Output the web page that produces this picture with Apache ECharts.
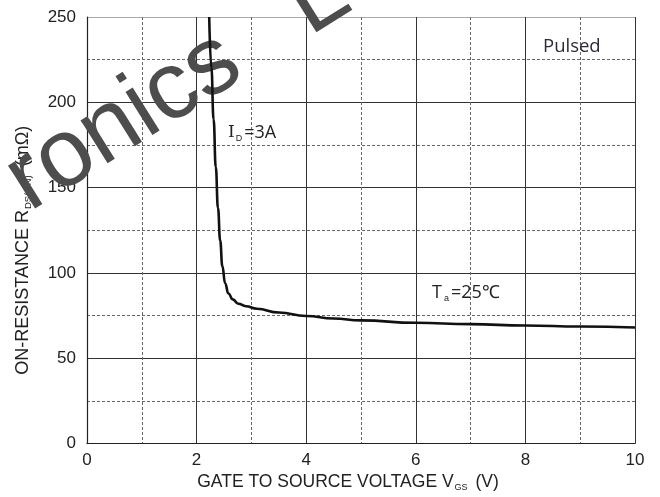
<!DOCTYPE html>
<html>
<head>
<meta charset="utf-8">
<script src="https://cdn.jsdelivr.net/npm/echarts@6/dist/echarts.min.js"></script>
<style>html,body{margin:0;padding:0;background:#fff;}#c{width:660px;height:497px;}</style>
</head>
<body>
<div id="c"></div>
<script>
// Data
const vgs = [2.23, 2.27, 2.31, 2.35, 2.39, 2.43, 2.47, 2.52, 2.58, 2.66, 2.76, 2.90, 3.10, 3.50, 4.00, 4.50, 5.00, 6.00, 7.00, 8.00, 9.00, 10.00];
const rdson = [250, 220, 190, 162, 138, 119, 104, 94, 88, 84.5, 82, 80.5, 79, 76.8, 74.8, 73.3, 72.2, 70.8, 70.0, 69.2, 68.6, 68.0];
const xTicks = [0, 2, 4, 6, 8, 10];
const yTicks = [0, 50, 100, 150, 200, 250];

const chart = echarts.init(document.getElementById('c'), null, {renderer: 'canvas'});
const sans = 'Liberation Sans, Arial, sans-serif';
const open = 'Open Sans, sans-serif';

chart.setOption({
  animation: false,
  backgroundColor: '#fff',
  grid: {left: 87, right: 25, top: 17, bottom: 52, containLabel: false},
  xAxis: {
    type: 'value', min: xTicks[0], max: xTicks[xTicks.length - 1], interval: 2,
    axisLine: {show: true, lineStyle: {color: '#222', width: 1.2}},
    axisTick: {show: false},
    axisLabel: {color: '#222', fontFamily: sans, fontSize: 17, margin: 8},
    splitLine: {show: true, lineStyle: {color: '#333', width: 1, type: 'solid'}},
    minorTick: {show: false, splitNumber: 2},
    minorSplitLine: {show: true, lineStyle: {color: '#666', width: 1, type: [3, 2]}},
    name: 'GATE TO SOURCE VOLTAGE V{sub|GS} (V)',
    nameLocation: 'middle', nameGap: 27,
    nameTextStyle: {color: '#222', fontFamily: sans, fontSize: 17.5, padding: [0, 26, 0, 0],
      rich: {sub: {fontSize: 9, fontFamily: sans, color: '#222', padding: [10, 3, 0, 1]}}}
  },
  yAxis: {
    type: 'value', min: yTicks[0], max: yTicks[yTicks.length - 1], interval: 50,
    axisLine: {show: true, lineStyle: {color: '#222', width: 1.2}},
    axisTick: {show: false},
    axisLabel: {color: '#222', fontFamily: sans, fontSize: 17, margin: 11},
    splitLine: {show: true, lineStyle: {color: ['#333', '#333', '#333', '#333', '#333', '#aaa'], width: 1}},
    minorTick: {show: false, splitNumber: 2},
    minorSplitLine: {show: true, lineStyle: {color: '#666', width: 1, type: [3, 2]}},
    name: 'ON-RESISTANCE R{sub|DS(ON)} (mΩ)',
    nameLocation: 'middle', nameGap: 54, nameRotate: 90,
    nameTextStyle: {color: '#222', fontFamily: sans, fontSize: 18, padding: [0, 40, 0, 0],
      rich: {sub: {fontSize: 9.5, fontFamily: sans, color: '#222', padding: [10, 4, 0, 1]}}}
  },
  series: [{
    type: 'line',
    data: vgs.map((v, i) => [v, rdson[i]]),
    smooth: 0.5,
    smoothMonotone: 'x',
    showSymbol: false,
    clip: true,
    z: 5,
    lineStyle: {color: '#111', width: 2.6}
  }],
  graphic: [
    {type: 'text', z: 3, left: 543, top: 37,
      style: {text: 'Pulsed', fill: '#2b2b38', font: '18.5px ' + open}},
    {type: 'text', z: 3, left: 228, top: 124,
      style: {text: '{i|I}{s|D}{n|=3A}',
        rich: {i: {font: '17px DejaVu Serif', fill: '#222'},
               s: {font: '9px ' + sans, fill: '#222', padding: [11, 2, 0, 1]},
               n: {font: '18px ' + open, fill: '#222'}}}},
    {type: 'text', z: 3, left: 432, top: 284,
      style: {text: '{n|T}{s|a}{n|=25℃}',
        rich: {n: {font: '18px ' + open, fill: '#222'},
               s: {font: '9px ' + sans, fill: '#222', padding: [12, 2, 0, 2]}}}},
    {type: 'text', z: 2, x: -10, y: 149, rotation: 0.56,
      style: {text: 'ronics \u2002L', fill: '#4d4d4d', font: '96px ' + sans,
        align: 'left', verticalAlign: 'top'}}
  ]
});
</script>
</body>
</html>
